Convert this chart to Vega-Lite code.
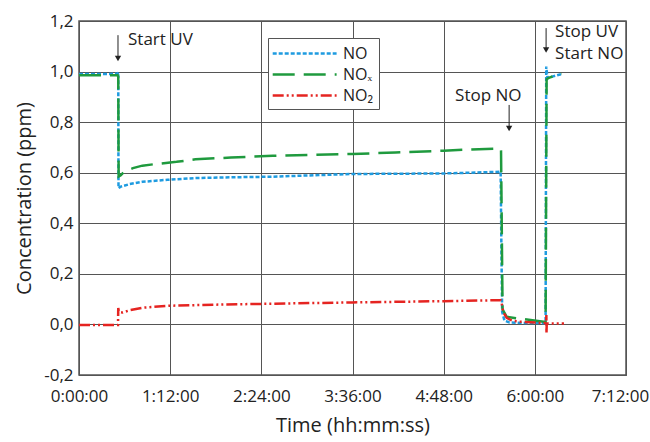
{
  "$schema": "https://vega.github.io/schema/vega-lite/v6.json",
  "width": 547,
  "height": 354,
  "autosize": {"type": "none"},
  "padding": {"left": 79, "top": 21, "right": 24, "bottom": 67},
  "background": "white",
  "config": {
    "font": "Open Sans",
    "view": {"stroke": "#555", "strokeWidth": 1.5},
    "axis": {"labelFont": "Open Sans", "titleFont": "Open Sans", "labelColor": "#222", "titleColor": "#222", "titleFontWeight": "normal", "gridColor": "#555", "gridWidth": 1, "gridOpacity": 1, "domainColor": "#555", "ticks": false, "labelOverlap": false, "labelFlush": false}
  },
  "datasets": {
    "series": [
      {"s": "NO", "t": 0, "c": 0.99}, {"s": "NO", "t": 20, "c": 0.99}, {"s": "NO", "t": 30.5, "c": 0.992}, {"s": "NO", "t": 31.0, "c": 0.997},
      {"s": "NO", "t": 31.2, "c": 0.539}, {"s": "NO", "t": 33, "c": 0.545}, {"s": "NO", "t": 40, "c": 0.555}, {"s": "NO", "t": 50, "c": 0.564},
      {"s": "NO", "t": 70, "c": 0.572}, {"s": "NO", "t": 92, "c": 0.579}, {"s": "NO", "t": 120, "c": 0.582}, {"s": "NO", "t": 151, "c": 0.584},
      {"s": "NO", "t": 180, "c": 0.589}, {"s": "NO", "t": 216, "c": 0.595}, {"s": "NO", "t": 250, "c": 0.596}, {"s": "NO", "t": 288, "c": 0.597},
      {"s": "NO", "t": 315, "c": 0.601}, {"s": "NO", "t": 333, "c": 0.604}, {"s": "NO", "t": 333.6, "c": 0.3}, {"s": "NO", "t": 334.2, "c": 0.05},
      {"s": "NO", "t": 336, "c": 0.015}, {"s": "NO", "t": 340, "c": 0.008}, {"s": "NO", "t": 350, "c": 0.006}, {"s": "NO", "t": 368.5, "c": 0.005},
      {"s": "NO", "t": 369.0, "c": 1.02}, {"s": "NO", "t": 370, "c": 0.975}, {"s": "NO", "t": 381, "c": 0.99},
      {"s": "NOx", "t": 0, "c": 0.985}, {"s": "NOx", "t": 30.5, "c": 0.985}, {"s": "NOx", "t": 31.0, "c": 0.98}, {"s": "NOx", "t": 31.3, "c": 0.585},
      {"s": "NOx", "t": 33, "c": 0.59}, {"s": "NOx", "t": 36, "c": 0.605}, {"s": "NOx", "t": 42.6, "c": 0.618}, {"s": "NOx", "t": 50, "c": 0.628},
      {"s": "NOx", "t": 60, "c": 0.634}, {"s": "NOx", "t": 77, "c": 0.643}, {"s": "NOx", "t": 92, "c": 0.653}, {"s": "NOx", "t": 120, "c": 0.66},
      {"s": "NOx", "t": 153, "c": 0.667}, {"s": "NOx", "t": 185, "c": 0.671}, {"s": "NOx", "t": 216, "c": 0.674}, {"s": "NOx", "t": 250, "c": 0.68},
      {"s": "NOx", "t": 288, "c": 0.687}, {"s": "NOx", "t": 310, "c": 0.692}, {"s": "NOx", "t": 332.5, "c": 0.696}, {"s": "NOx", "t": 333.3, "c": 0.69},
      {"s": "NOx", "t": 334.5, "c": 0.06}, {"s": "NOx", "t": 337.8, "c": 0.03}, {"s": "NOx", "t": 345.7, "c": 0.024}, {"s": "NOx", "t": 364, "c": 0.013},
      {"s": "NOx", "t": 368.5, "c": 0.01}, {"s": "NOx", "t": 369.3, "c": 0.97}, {"s": "NOx", "t": 371, "c": 0.975}, {"s": "NOx", "t": 381, "c": 0.993},
      {"s": "NO2", "t": 0, "c": -0.002}, {"s": "NO2", "t": 30.8, "c": -0.002}, {"s": "NO2", "t": 31.0, "c": 0.065}, {"s": "NO2", "t": 31.5, "c": 0.05},
      {"s": "NO2", "t": 34.5, "c": 0.047}, {"s": "NO2", "t": 40, "c": 0.056}, {"s": "NO2", "t": 50, "c": 0.066}, {"s": "NO2", "t": 72, "c": 0.074},
      {"s": "NO2", "t": 116, "c": 0.079}, {"s": "NO2", "t": 153, "c": 0.082}, {"s": "NO2", "t": 216, "c": 0.087}, {"s": "NO2", "t": 288, "c": 0.092},
      {"s": "NO2", "t": 333, "c": 0.096}, {"s": "NO2", "t": 333.8, "c": 0.085}, {"s": "NO2", "t": 335, "c": 0.05}, {"s": "NO2", "t": 337.8, "c": 0.026},
      {"s": "NO2", "t": 342, "c": 0.015}, {"s": "NO2", "t": 348, "c": 0.011}, {"s": "NO2", "t": 366.5, "c": 0.006}, {"s": "NO2", "t": 369, "c": 0.006},
      {"s": "NO2", "t": 369.1, "c": 0.037}, {"s": "NO2", "t": 369.2, "c": -0.034}, {"s": "NO2", "t": 369.4, "c": 0.004}, {"s": "NO2", "t": 383, "c": 0.004}
    ],
    "notes": [
      {"t": 38.7, "c": 1.125, "label": "Start UV"},
      {"t": 297, "c": 0.903, "label": "Stop NO"},
      {"t": 376, "c": 1.155, "label": "Stop UV"},
      {"t": 376, "c": 1.07, "label": "Start NO"}
    ],
    "arrows": [
      {"t": 30.8, "c": 1.144, "c2": 1.06, "tip": 1.052},
      {"t": 339.7, "c": 0.868, "c2": 0.78, "tip": 0.775},
      {"t": 368.9, "c": 1.172, "c2": 1.09, "tip": 1.085}
    ]
  },
  "layer": [
    {
      "data": {"name": "series"},
      "mark": {"type": "line", "strokeWidth": 2.5, "interpolate": "linear"},
      "encoding": {
        "x": {"field": "t", "type": "quantitative", "scale": {"domain": [0, 432], "nice": false, "zero": false},
          "axis": {"values": [0, 72, 144, 216, 288, 360, 432], "grid": true, "labelFontSize": 17, "titleFontSize": 20, "labelPadding": 13, "titlePadding": 11,
            "labelOffset": {"condition": {"test": "datum.value == 432", "value": -6}, "value": 0},
            "labelExpr": "floor(datum.value/60) + ':' + (datum.value % 60 < 10 ? '0' : '') + (datum.value % 60) + ':00'"},
          "title": "Time (hh:mm:ss)"},
        "y": {"field": "c", "type": "quantitative", "scale": {"domain": [-0.2, 1.2], "nice": false, "zero": false},
          "axis": {"values": [-0.2, 0, 0.2, 0.4, 0.6, 0.8, 1.0, 1.2], "grid": true, "labelFontSize": 17, "titleFontSize": 20, "labelPadding": 6, "titlePadding": 9,
            "labelExpr": "(datum.value < -0.01 ? '-' : '') + replace(format(abs(datum.value), '.1f'), '.', ',')"},
          "title": "Concentration (ppm)"},
        "color": {"field": "s", "type": "nominal",
          "scale": {"domain": ["NO", "NOx", "NO2"], "range": ["#1e9be0", "#1f9a3e", "#e52421"]},
          "legend": {"orient": "none", "legendX": 189, "legendY": 17, "title": null, "symbolType": "M-1.2,0H5.9", "symbolStrokeWidth": 2.5, "symbolSize": 324, "symbolFillColor": "transparent",
            "labelFontSize": 16, "labelColor": "#222", "labelFont": "Open Sans", "padding": 5, "strokeColor": "#555", "fillColor": "white", "rowPadding": 2, "labelOffset": 49,
            "labelExpr": "datum.label == 'NOx' ? 'NOₓ' : (datum.label == 'NO2' ? 'NO₂' : datum.label)"}},
        "strokeDash": {"field": "s", "type": "nominal",
          "scale": {"domain": ["NO", "NOx", "NO2"], "range": [[4, 2], [22, 9], [11, 3, 2, 3, 2, 3]]},
          "legend": {"orient": "none", "legendX": 189, "legendY": 17, "title": null, "symbolType": "M-1.2,0H5.9", "symbolStrokeWidth": 2.5, "symbolSize": 324, "symbolFillColor": "transparent",
            "labelFontSize": 16, "labelColor": "#222", "labelFont": "Open Sans", "padding": 5, "strokeColor": "#555", "fillColor": "white", "rowPadding": 2, "labelOffset": 49,
            "labelExpr": "datum.label == 'NOx' ? 'NOₓ' : (datum.label == 'NO2' ? 'NO₂' : datum.label)"}}
      }
    },
    {
      "data": {"name": "notes"},
      "mark": {"type": "text", "fontSize": 17, "font": "Open Sans", "color": "#222", "baseline": "middle", "align": "left"},
      "encoding": {
        "x": {"field": "t", "type": "quantitative"},
        "y": {"field": "c", "type": "quantitative"},
        "text": {"field": "label"}
      }
    },
    {
      "data": {"name": "arrows"},
      "mark": {"type": "rule", "color": "#222", "strokeWidth": 1},
      "encoding": {
        "x": {"field": "t", "type": "quantitative"},
        "y": {"field": "c", "type": "quantitative"},
        "y2": {"field": "c2"}
      }
    },
    {
      "data": {"name": "arrows"},
      "mark": {"type": "point", "shape": "triangle-down", "filled": true, "color": "#222", "size": 40, "opacity": 1},
      "encoding": {
        "x": {"field": "t", "type": "quantitative"},
        "y": {"field": "tip", "type": "quantitative"}
      }
    }
  ]
}
